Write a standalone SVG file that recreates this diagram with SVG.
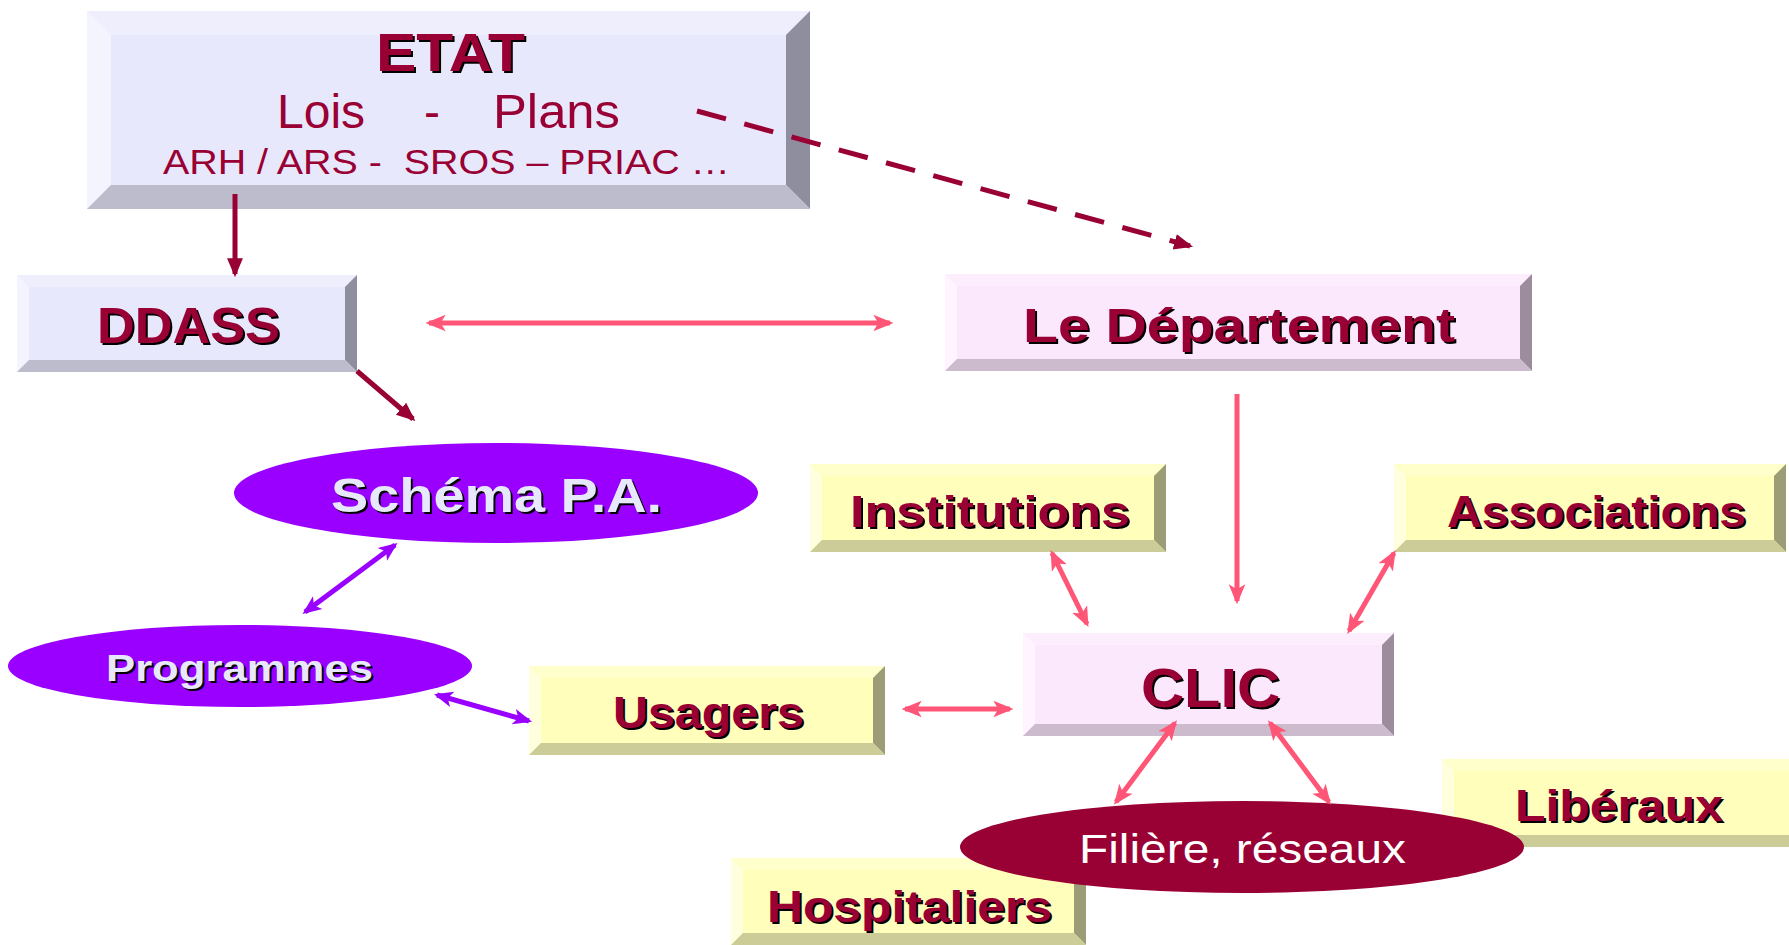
<svg xmlns="http://www.w3.org/2000/svg" width="1789" height="945" viewBox="0 0 1789 945">
<defs>
<style>
.t{font-family:"Liberation Sans",Arial,sans-serif;font-weight:bold;fill:#990033;}
.sh{font-family:"Liberation Sans",Arial,sans-serif;font-weight:bold;fill:#000;}
.w{font-family:"Liberation Sans",Arial,sans-serif;font-weight:bold;fill:#E8E8FC;}
.n{font-family:"Liberation Sans",Arial,sans-serif;fill:#990033;}
.pk{stroke:#FF5577;stroke-width:5;fill:none;}
.pu{stroke:#9900FF;stroke-width:5;fill:none;}
.dr{stroke:#990033;stroke-width:5;fill:none;}
</style>
<marker id="mp" viewBox="0 0 12 12" refX="10" refY="6" markerWidth="20" markerHeight="20" markerUnits="userSpaceOnUse" orient="auto-start-reverse"><path d="M0,1 L12,6 L0,11 L3,6 z" fill="#FF5577"/></marker>
<marker id="mu" viewBox="0 0 12 12" refX="10" refY="6" markerWidth="19" markerHeight="19" markerUnits="userSpaceOnUse" orient="auto-start-reverse"><path d="M0,1 L12,6 L0,11 L3,6 z" fill="#9900FF"/></marker>
<marker id="md" viewBox="0 0 12 12" refX="10" refY="6" markerWidth="19" markerHeight="19" markerUnits="userSpaceOnUse" orient="auto"><path d="M0,1 L12,6 L0,11 z" fill="#990033"/></marker>
</defs>
<rect width="1789" height="945" fill="#fff"/>

<g id="etat">
<rect x="87" y="11" width="723" height="198" fill="#E8E8FC"/>
<polygon points="87,11 810,11 786,35 111,35" fill="#EEEEFC"/>
<polygon points="87,11 111,35 111,185 87,209" fill="#F4F4FF"/>
<polygon points="810,11 810,209 786,185 786,35" fill="#8F8E9F"/>
<polygon points="87,209 111,185 786,185 810,209" fill="#BDBCCC"/>
<text class="sh" x="378" y="73" font-size="54" textLength="149" lengthAdjust="spacingAndGlyphs">ETAT</text>
<text class="t" x="376" y="71" font-size="54" textLength="149" lengthAdjust="spacingAndGlyphs">ETAT</text>
<text class="n" y="128" font-size="48"><tspan x="277">Lois</tspan><tspan x="424">-</tspan><tspan x="493" textLength="127" lengthAdjust="spacingAndGlyphs">Plans</tspan></text>
<text class="n" x="163" y="174" font-size="35" textLength="567" lengthAdjust="spacingAndGlyphs" xml:space="preserve">ARH / ARS -  SROS – PRIAC …</text>
</g>

<g id="ddass">
<rect x="17" y="275" width="340" height="97" fill="#E8E8FC"/>
<polygon points="17,275 357,275 345,287 29,287" fill="#EEEEFC"/>
<polygon points="17,275 29,287 29,360 17,372" fill="#F4F4FF"/>
<polygon points="357,275 357,372 345,360 345,287" fill="#8F8E9F"/>
<polygon points="17,372 29,360 345,360 357,372" fill="#BDBCCC"/>
<text class="sh" x="99" y="345" font-size="50" textLength="183" lengthAdjust="spacingAndGlyphs">DDASS</text>
<text class="t" x="97" y="343" font-size="50" textLength="183" lengthAdjust="spacingAndGlyphs">DDASS</text>
</g>

<g id="departement">
<rect x="945" y="274" width="587" height="97" fill="#FCE8FC"/>
<polygon points="945,274 1532,274 1520,286 957,286" fill="#FCEEFC"/>
<polygon points="945,274 957,286 957,359 945,371" fill="#FFF4FF"/>
<polygon points="1532,274 1532,371 1520,359 1520,286" fill="#9C8C9C"/>
<polygon points="945,371 957,359 1520,359 1532,371" fill="#CCBBCC"/>
<text class="sh" x="1025" y="344" font-size="48" textLength="432" lengthAdjust="spacingAndGlyphs">Le Département</text>
<text class="t" x="1023" y="342" font-size="48" textLength="432" lengthAdjust="spacingAndGlyphs">Le Département</text>
</g>

<g id="schema">
<ellipse cx="496" cy="493" rx="262" ry="50" fill="#9900FF"/>
<text class="sh" x="333" y="514" font-size="48" textLength="331" lengthAdjust="spacingAndGlyphs">Schéma P.A.</text>
<text class="w" x="331" y="512" font-size="48" textLength="331" lengthAdjust="spacingAndGlyphs">Schéma P.A.</text>
</g>

<g id="programmes">
<ellipse cx="240" cy="666" rx="232" ry="41" fill="#9900FF"/>
<text class="sh" x="108" y="683" font-size="37" textLength="267" lengthAdjust="spacingAndGlyphs">Programmes</text>
<text class="w" x="106" y="681" font-size="37" textLength="267" lengthAdjust="spacingAndGlyphs">Programmes</text>
</g>

<g id="usagers">
<rect x="529" y="666" width="356" height="89" fill="#FFFFBB"/>
<polygon points="529,666 885,666 873,678 541,678" fill="#FFFFCC"/>
<polygon points="529,666 541,678 541,743 529,755" fill="#FFFFDD"/>
<polygon points="885,666 885,755 873,743 873,678" fill="#9C9C77"/>
<polygon points="529,755 541,743 873,743 885,755" fill="#CCCC99"/>
<text class="sh" x="615" y="730" font-size="45" textLength="191" lengthAdjust="spacingAndGlyphs">Usagers</text>
<text class="t" x="613" y="728" font-size="45" textLength="191" lengthAdjust="spacingAndGlyphs">Usagers</text>
</g>

<g id="institutions">
<rect x="810" y="464" width="356" height="88" fill="#FFFFBB"/>
<polygon points="810,464 1166,464 1154,476 822,476" fill="#FFFFCC"/>
<polygon points="810,464 822,476 822,540 810,552" fill="#FFFFDD"/>
<polygon points="1166,464 1166,552 1154,540 1154,476" fill="#9C9C77"/>
<polygon points="810,552 822,540 1154,540 1166,552" fill="#CCCC99"/>
<text class="sh" x="852" y="529" font-size="45" textLength="280" lengthAdjust="spacingAndGlyphs">Institutions</text>
<text class="t" x="850" y="527" font-size="45" textLength="280" lengthAdjust="spacingAndGlyphs">Institutions</text>
</g>

<g id="associations">
<rect x="1394" y="464" width="392" height="88" fill="#FFFFBB"/>
<polygon points="1394,464 1786,464 1774,476 1406,476" fill="#FFFFCC"/>
<polygon points="1394,464 1406,476 1406,540 1394,552" fill="#FFFFDD"/>
<polygon points="1786,464 1786,552 1774,540 1774,476" fill="#9C9C77"/>
<polygon points="1394,552 1406,540 1774,540 1786,552" fill="#CCCC99"/>
<text class="sh" x="1449" y="529" font-size="45" textLength="299" lengthAdjust="spacingAndGlyphs">Associations</text>
<text class="t" x="1447" y="527" font-size="45" textLength="299" lengthAdjust="spacingAndGlyphs">Associations</text>
</g>

<g id="clic">
<rect x="1023" y="633" width="371" height="103" fill="#FCE8FC"/>
<polygon points="1023,633 1394,633 1382,645 1035,645" fill="#FCEEFC"/>
<polygon points="1023,633 1035,645 1035,724 1023,736" fill="#FFF4FF"/>
<polygon points="1394,633 1394,736 1382,724 1382,645" fill="#9C8C9C"/>
<polygon points="1023,736 1035,724 1382,724 1394,736" fill="#CCBBCC"/>
<text class="sh" x="1143" y="709" font-size="55" textLength="139" lengthAdjust="spacingAndGlyphs">CLIC</text>
<text class="t" x="1141" y="707" font-size="55" textLength="139" lengthAdjust="spacingAndGlyphs">CLIC</text>
</g>

<g id="liberaux">
<rect x="1442" y="759" width="347" height="88" fill="#FFFFBB"/>
<polygon points="1442,759 1789,759 1789,771 1454,771" fill="#FFFFCC"/>
<polygon points="1442,759 1454,771 1454,835 1442,847" fill="#FFFFDD"/>
<polygon points="1442,847 1454,835 1789,835 1789,847" fill="#CCCC99"/>
<text class="sh" x="1517" y="823" font-size="45" textLength="208" lengthAdjust="spacingAndGlyphs">Libéraux</text>
<text class="t" x="1515" y="821" font-size="45" textLength="208" lengthAdjust="spacingAndGlyphs">Libéraux</text>
</g>

<g id="hospitaliers">
<rect x="731" y="858" width="355" height="87" fill="#FFFFBB"/>
<polygon points="731,858 1086,858 1074,870 743,870" fill="#FFFFCC"/>
<polygon points="731,858 743,870 743,933 731,945" fill="#FFFFDD"/>
<polygon points="1086,858 1086,945 1074,933 1074,870" fill="#9C9C77"/>
<polygon points="731,945 743,933 1074,933 1086,945" fill="#CCCC99"/>
<text class="sh" x="769" y="924" font-size="45" textLength="285" lengthAdjust="spacingAndGlyphs">Hospitaliers</text>
<text class="t" x="767" y="922" font-size="45" textLength="285" lengthAdjust="spacingAndGlyphs">Hospitaliers</text>
</g>

<g id="filiere">
<ellipse cx="1242" cy="847" rx="282" ry="46" fill="#990033"/>
<text x="1079" y="863" font-size="41" textLength="327" lengthAdjust="spacingAndGlyphs" style="font-family:'Liberation Sans',Arial,sans-serif;fill:#fff">Filière, réseaux</text>
</g>

<g id="connectors">
<line class="dr" x1="235" y1="194" x2="235" y2="274" marker-end="url(#md)"/>
<line class="dr" x1="697" y1="111" x2="1190" y2="246" stroke-width="7" stroke-dasharray="30,19" marker-end="url(#md)"/>
<line class="dr" x1="357" y1="371" x2="413" y2="419" marker-end="url(#md)"/>
<line class="pk" x1="429" y1="323" x2="890" y2="323" marker-start="url(#mp)" marker-end="url(#mp)"/>
<line class="pk" x1="1237" y1="394" x2="1237" y2="601" marker-end="url(#mp)"/>
<line class="pk" x1="1052" y1="553" x2="1087" y2="624" marker-start="url(#mp)" marker-end="url(#mp)"/>
<line class="pk" x1="1394" y1="553" x2="1349" y2="631" marker-start="url(#mp)" marker-end="url(#mp)"/>
<line class="pk" x1="905" y1="709" x2="1010" y2="709" stroke-width="7" marker-start="url(#mp)" marker-end="url(#mp)"/>
<line class="pk" x1="1175" y1="723" x2="1116" y2="802" marker-start="url(#mp)" marker-end="url(#mp)"/>
<line class="pk" x1="1270" y1="723" x2="1329" y2="802" marker-start="url(#mp)" marker-end="url(#mp)"/>
<line class="pu" x1="395" y1="545" x2="305" y2="612" marker-start="url(#mu)" marker-end="url(#mu)"/>
<line class="pu" x1="437" y1="695" x2="529" y2="721" stroke-width="6" marker-start="url(#mu)" marker-end="url(#mu)"/>
</g>
</svg>
